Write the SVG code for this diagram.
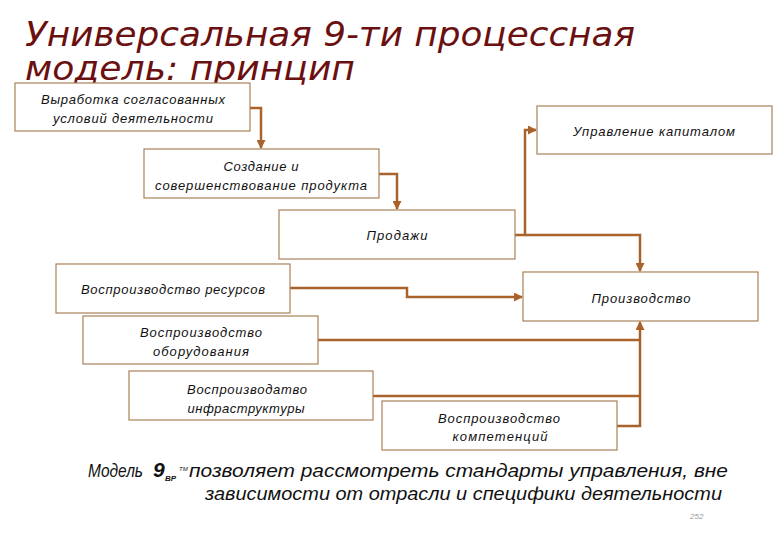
<svg xmlns="http://www.w3.org/2000/svg" width="780" height="540" viewBox="0 0 780 540">
<style>
.title{font-family:"DejaVu Sans Condensed","DejaVu Sans",sans-serif;font-style:oblique;font-size:34px;fill:#6b1010}
.box{fill:#ffffff;stroke:#a8805a;stroke-width:1.2}
.lbl{font-family:"Liberation Sans",Arial,sans-serif;font-style:italic;font-size:13px;fill:#111;text-anchor:middle}
.conn{fill:none;stroke:#a9622a;stroke-width:2.5}
.foot{font-family:"Liberation Sans",Arial,sans-serif;font-style:italic;font-size:18px;fill:#111}
</style>
<defs>
<marker id="arr" markerUnits="userSpaceOnUse" markerWidth="9" markerHeight="9" refX="8" refY="4.5" orient="auto">
<path d="M0,0 L9,4.5 L0,9 z" fill="#a9622a"/>
</marker>
</defs>
<rect width="780" height="540" fill="#ffffff"/>
<g id="title">
<text class="title" x="25" y="46" textLength="610" lengthAdjust="spacingAndGlyphs">Универсальная 9-ти процессная</text>
<text class="title" x="25" y="80" textLength="330" lengthAdjust="spacingAndGlyphs">модель: принцип</text>
</g>
<g id="connectors">
<path class="conn" d="M250,108 H261 V148" marker-end="url(#arr)"/>
<path class="conn" d="M379,174 H397 V209" marker-end="url(#arr)"/>
<path class="conn" d="M515,235 H525 V130 H536" marker-end="url(#arr)"/>
<path class="conn" d="M525,235 H640 V271" marker-end="url(#arr)"/>
<path class="conn" d="M290,288 H407 V297 H522" marker-end="url(#arr)"/>
<path class="conn" d="M318,340 H640"/>
<path class="conn" d="M373,396 H640"/>
<path class="conn" d="M617,426 H640 V322" marker-end="url(#arr)"/>
</g>
<g id="n1">
<rect class="box" x="15" y="83" width="235" height="48"/>
<text class="lbl" x="133" y="104" textLength="184">Выработка согласованных</text>
<text class="lbl" x="133" y="123" textLength="160">условий деятельности</text>
</g>
<g id="n2">
<rect class="box" x="144" y="149" width="235" height="49"/>
<text class="lbl" x="261" y="171" textLength="75">Создание и</text>
<text class="lbl" x="261" y="190" textLength="212">совершенствование продукта</text>
</g>
<g id="n3">
<rect class="box" x="279" y="210" width="236" height="49"/>
<text class="lbl" x="397" y="240" textLength="61">Продажи</text>
</g>
<g id="n4">
<rect class="box" x="537" y="106" width="235" height="48"/>
<text class="lbl" x="654" y="136" textLength="162">Управление капиталом</text>
</g>
<g id="n5">
<rect class="box" x="523" y="272" width="235" height="49"/>
<text class="lbl" x="641" y="303" textLength="99">Производство</text>
</g>
<g id="n6">
<rect class="box" x="56" y="264" width="234" height="49"/>
<text class="lbl" x="173" y="294" textLength="184">Воспроизводство ресурсов</text>
</g>
<g id="n7">
<rect class="box" x="83" y="316" width="235" height="48"/>
<text class="lbl" x="201" y="337" textLength="122">Воспроизводство</text>
<text class="lbl" x="201" y="356" textLength="96">оборудования</text>
</g>
<g id="n8">
<rect class="box" x="129" y="371" width="244" height="49"/>
<text class="lbl" x="247" y="394" textLength="120">Воспроизводатво</text>
<text class="lbl" x="246" y="413" textLength="117">инфраструктуры</text>
</g>
<g id="n9">
<rect class="box" x="382" y="401" width="235" height="49"/>
<text class="lbl" x="499" y="423" textLength="122">Воспроизводство</text>
<text class="lbl" x="500" y="441" textLength="95">компетенций</text>
</g>
<g id="footer">
<text class="foot" x="88" y="477" textLength="55" lengthAdjust="spacingAndGlyphs">Модель</text>
<text x="153" y="477" font-family="Liberation Sans,Arial,sans-serif" font-style="italic" font-weight="bold" font-size="21" fill="#111">9</text>
<text x="165" y="481" font-family="Liberation Sans,Arial,sans-serif" font-style="italic" font-weight="bold" font-size="8" fill="#111">ВР</text>
<text x="179" y="471" font-family="Liberation Sans,Arial,sans-serif" font-style="italic" font-size="6" fill="#111">ТМ</text>
<text class="foot" x="189" y="477" textLength="539" lengthAdjust="spacingAndGlyphs">позволяет рассмотреть стандарты управления, вне</text>
<text class="foot" x="205" y="500" textLength="517" lengthAdjust="spacingAndGlyphs">зависимости от отрасли и специфики деятельности</text>
<text x="690" y="519" font-family="Liberation Sans,Arial,sans-serif" font-style="italic" font-size="8" fill="#999">252</text>
</g>
</svg>
